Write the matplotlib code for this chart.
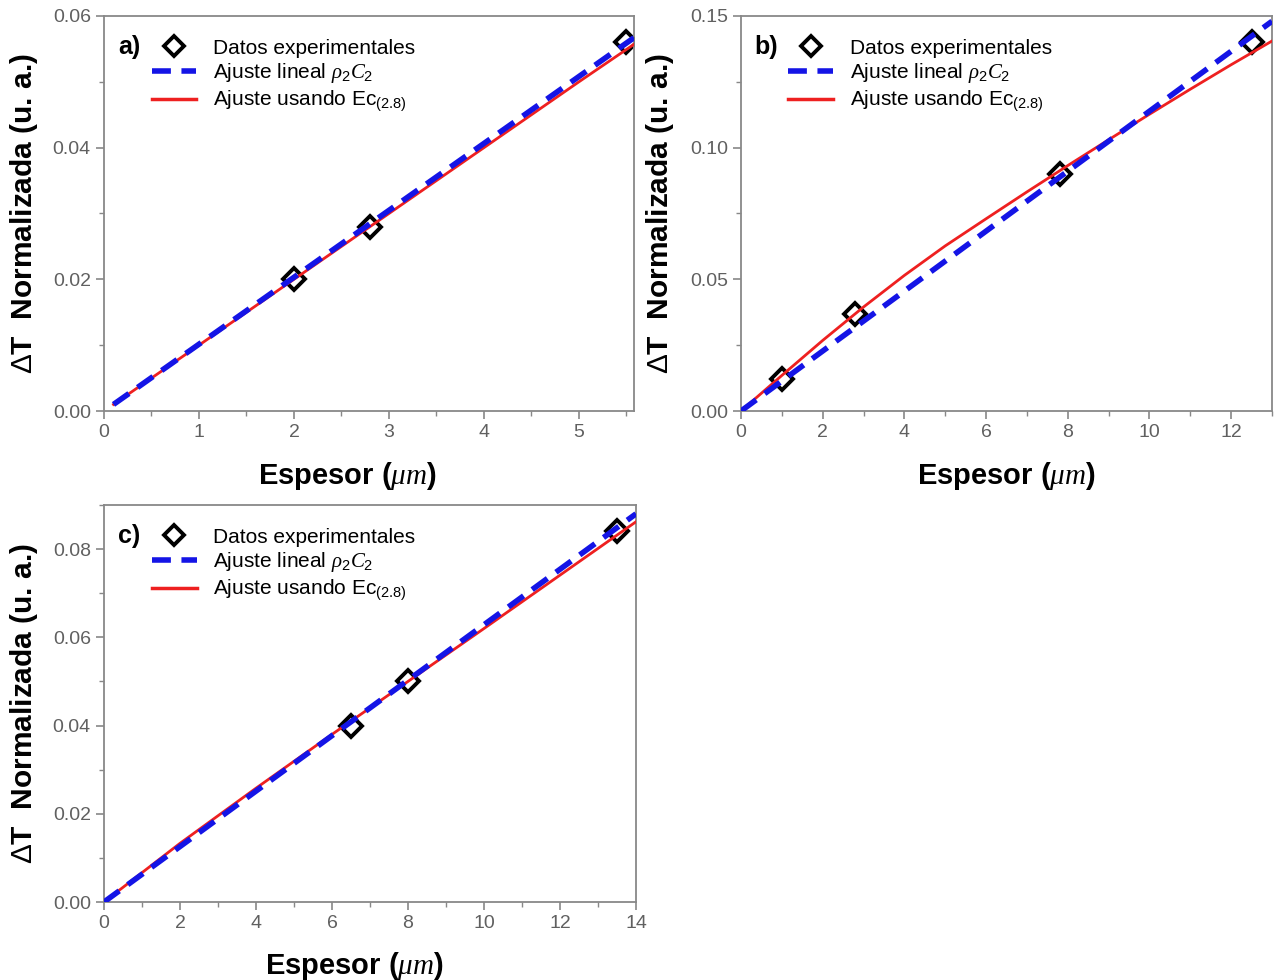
import matplotlib
matplotlib.use("Agg")
import matplotlib.pyplot as plt
from matplotlib.ticker import MultipleLocator, FormatStrFormatter
from matplotlib.lines import Line2D

plt.rcParams['font.family'] = ['Liberation Sans', 'DejaVu Sans']
plt.rcParams['mathtext.fontset'] = 'custom'
plt.rcParams['mathtext.rm'] = 'Liberation Sans'
plt.rcParams['mathtext.it'] = 'Liberation Serif:italic'
plt.rcParams['mathtext.bf'] = 'Liberation Sans:bold'

# ---- Panel a data ----
a_x = [2.0, 2.8, 5.5]
a_y = [0.020, 0.028, 0.056]
a_blue_x = [0.1, 5.58]
a_blue_y = [0.0010, 0.0567]
a_red_x = [0.1, 1.0, 2.0, 3.0, 4.0, 5.0, 5.58]
a_red_y = [0.0010, 0.0100, 0.0200, 0.0300, 0.0400, 0.0500, 0.0557]

# ---- Panel b data ----
b_x = [1.0, 2.8, 7.8, 12.5]
b_y = [0.012, 0.037, 0.090, 0.140]
b_blue_x = [0.0, 13.0]
b_blue_y = [0.0, 0.148]
b_red_x = [0, 1, 2, 3, 4, 5, 6, 7, 8, 9, 10, 11, 12, 13]
b_red_y = [0.0, 0.0135, 0.0268, 0.0395, 0.0515, 0.0627, 0.0730,
           0.0832, 0.0932, 0.1030, 0.1127, 0.1222, 0.1315, 0.1405]

# ---- Panel c data ----
c_x = [6.5, 8.0, 13.5]
c_y = [0.040, 0.050, 0.084]
c_blue_x = [0.0, 14.0]
c_blue_y = [0.0, 0.088]
c_red_x = [0, 2, 4, 6, 8, 10, 12, 14]
c_red_y = [0.0, 0.0133, 0.0258, 0.0380, 0.0500, 0.0620, 0.0741, 0.0862]

labels = ['Datos experimentales', r'Ajuste lineal $\rho_2 C_2$',
          r'Ajuste usando Ec$_{\mathrm{(2.8)}}$']

BLUE = '#1414e6'
RED = '#ee2020'
GRAY = '#606060'
DASH = (0, (3.4, 1.9))

fig = plt.figure(figsize=(12.83, 9.8), dpi=100)

W, H = 1283, 980
def add_axes(l, r, t, b):
    return fig.add_axes([l / W, 1 - b / H, (r - l) / W, (b - t) / H])

ax_a = add_axes(104, 634, 16, 411)
ax_b = add_axes(741, 1272, 16, 411)
ax_c = add_axes(104, 636, 505, 902)

def draw(ax, px, py, bx, by, rx, ry, xlim, ylim, xmaj, xmin, ymaj, ymin,
         letter, xlab, ylab_x, leg_anchor, yfmt='%.2f', xfmt='%d'):
    ax.plot(px, py, linestyle='none', marker='D', markersize=11.5,
            markerfacecolor='none', markeredgecolor='black',
            markeredgewidth=2.8, zorder=2)
    ax.plot(rx, ry, color=RED, lw=2.0, zorder=3)
    ax.plot(bx, by, color=BLUE, lw=4.0, linestyle=DASH, zorder=4)
    ax.set_xlim(*xlim)
    ax.set_ylim(*ylim)
    ax.xaxis.set_major_locator(MultipleLocator(xmaj))
    ax.xaxis.set_minor_locator(MultipleLocator(xmin))
    ax.yaxis.set_major_locator(MultipleLocator(ymaj))
    ax.yaxis.set_minor_locator(MultipleLocator(ymin))
    ax.yaxis.set_major_formatter(FormatStrFormatter(yfmt))
    ax.xaxis.set_major_formatter(FormatStrFormatter(xfmt))
    for s in ax.spines.values():
        s.set_color('#888888')
        s.set_linewidth(1.3)
    ax.tick_params(which='major', direction='out', length=6, width=1.2,
                   color='#888888', labelcolor=GRAY, labelsize=14)
    ax.tick_params(which='minor', direction='out', length=3.5, width=1.0,
                   color='#888888')
    ax.set_ylabel(r'$\Delta$T  Normalizada (u. a.)', fontsize=21.5,
                  fontweight='bold')
    ax.yaxis.set_label_coords(ylab_x, 0.5)
    ax.set_xlabel(r'Espesor ($\mu m$)', fontsize=21, fontweight='bold')
    ax.xaxis.set_label_coords(*xlab)
    ax.text(0.026, 0.922, letter, transform=ax.transAxes, fontsize=18,
            fontweight='bold', va='center', ha='left')
    handles = [
        Line2D([], [], linestyle='none', marker='D', markersize=10.5,
               markerfacecolor='none', markeredgecolor='black',
               markeredgewidth=2.8),
        Line2D([], [], color=BLUE, lw=4.0, linestyle=DASH),
        Line2D([], [], color=RED, lw=2.5),
    ]
    ax.legend(handles, labels, loc='upper left',
              bbox_to_anchor=leg_anchor, frameon=False, fontsize=15,
              handlelength=2.15, handletextpad=0.8, labelspacing=0.18,
              borderpad=0, borderaxespad=0)

draw(ax_a, a_x, a_y, a_blue_x, a_blue_y, a_red_x, a_red_y,
     (0, 5.58), (0, 0.06), 1, 0.5, 0.02, 0.01, 'a)',
     (0.46, -0.125), -0.121, (0.09, 0.943))
draw(ax_b, b_x, b_y, b_blue_x, b_blue_y, b_red_x, b_red_y,
     (0, 13.0), (0, 0.15), 2, 1, 0.05, 0.025, 'b)',
     (0.5, -0.125), -0.122, (0.089, 0.943))
draw(ax_c, c_x, c_y, c_blue_x, c_blue_y, c_red_x, c_red_y,
     (0, 14.0), (0, 0.09), 2, 1, 0.02, 0.01, 'c)',
     (0.47, -0.12), -0.121, (0.09, 0.943))

fig.savefig('out.png', dpi=100)
